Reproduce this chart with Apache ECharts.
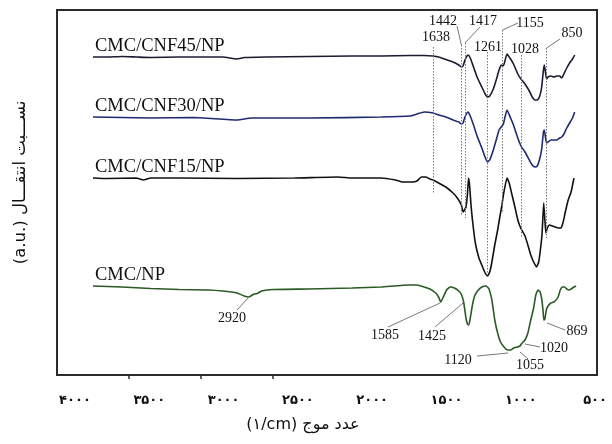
<!DOCTYPE html>
<html>
<head>
<meta charset="utf-8">
<script src="https://cdn.jsdelivr.net/npm/echarts@6/dist/echarts.min.js"></script>
<style>
  html, body { margin: 0; padding: 0; background: #fff; }
  #chart { width: 612px; height: 444px; }
</style>
</head>
<body>
<div id="chart"></div>
<script>
// FTIR spectra, wavenumber (cm-1) vs. offset transmittance (a.u.)
const cnf45 = [[4000,318],[3900,318],[3800,318.5],[3700,318],[3600,317.5],[3400,318],[3100,318],[3000,316],[2950,317.5],[2800,318],[2500,318.5],[2200,319],[2000,319],[1800,319.5],[1700,319.5],[1638,319],[1600,318],[1550,315.5],[1500,313],[1460,310],[1442,308],[1430,309],[1417,315],[1395,320],[1380,317],[1360,309],[1330,297],[1300,288],[1280,282],[1261,278],[1245,279],[1220,286],[1200,295],[1180,305],[1165,310],[1155,309],[1145,311],[1125,321],[1100,316],[1080,311],[1050,301],[1028,296],[1000,291],[970,284],[950,278],[930,275],[915,275],[900,278],[885,287],[872,305],[866,310],[858,303],[850,296],[840,298],[820,299],[800,298],[780,299],[760,299],[745,297],[730,301],[710,307],[690,312],[670,316],[655,320]];

const cnf30 = [[4000,258],[3800,257.5],[3600,257],[3300,257.5],[3000,255],[2900,257],[2500,257],[2000,258],[1800,259],[1750,261],[1700,263],[1638,262],[1600,260],[1550,258],[1500,255],[1460,253],[1442,251],[1430,252],[1417,258],[1395,263],[1380,259],[1360,251],[1330,238],[1300,227],[1280,219],[1261,213],[1245,215],[1220,225],[1200,235],[1180,245],[1160,249],[1150,251],[1125,265],[1100,257],[1080,250],[1050,237],[1028,229],[1000,223],[970,215],[950,210],[930,208],[915,209],[900,215],[885,225],[872,243],[866,245],[858,238],[850,232],[840,233],[820,235],[800,235],[780,235],[760,237],[745,238],[730,241],[710,247],[690,252],[670,257],[655,263]];

const cnf15 = [[4000,197],[3900,196.5],[3700,197],[3650,195],[3600,197],[3400,197],[3000,196.5],[2600,197],[2300,198],[2200,197],[2000,197],[1900,195],[1850,193],[1780,193],[1750,194],[1720,198],[1690,198],[1660,196],[1638,195],[1600,192],[1550,188],[1500,182],[1470,177],[1442,170],[1430,163],[1420,165],[1410,168],[1400,180],[1392,197],[1385,190],[1375,170],[1365,155],[1345,132],[1320,117],[1300,110],[1280,103],[1261,99],[1245,103],[1230,113],[1210,130],[1190,145],[1175,158],[1160,170],[1150,180],[1125,197],[1110,192],[1090,180],[1070,168],[1050,155],[1030,147],[1000,139],[980,130],[960,120],[940,113],[920,108],[905,113],[895,123],[882,140],[870,172],[862,155],[855,142],[845,147],[830,150],[810,149],[790,148],[770,147],[750,147],[735,153],[720,163],[700,175],[680,183],[660,197]];

const cmcNp = [[4000,89],[3800,88],[3600,86.5],[3400,85.5],[3200,85],[3100,84],[3000,82],[2950,79],[2920,78],[2880,81],[2860,81.5],[2830,84],[2750,85.5],[2500,86],[2200,87],[2000,88],[1800,90],[1750,90],[1700,88],[1660,86],[1620,82],[1600,78],[1585,73],[1570,77],[1545,85],[1520,88],[1490,87],[1460,84],[1440,80],[1425,72],[1410,57],[1400,51],[1390,50],[1380,57],[1365,70],[1350,79],[1330,84],[1300,88],[1270,89],[1250,86],[1230,75],[1210,55],[1190,42],[1170,33],[1140,27],[1120,25],[1100,25],[1080,27],[1055,28],[1035,29],[1020,32],[1000,35],[980,42],[960,55],[940,67],[925,80],[910,85],[895,83],[885,77],[875,65],[869,55],[862,56],[852,65],[840,69],[820,72],[800,73],[785,75],[770,78],[755,85],[740,88],[725,88],[710,86],[695,85],[680,86],[660,88],[645,89]];

const seriesNames = ['CMC/CNF45/NP', 'CMC/CNF30/NP', 'CMC/CNF15/NP', 'CMC/NP'];
const seriesColors = ['#1b1b30', '#1f2a70', '#111111', '#2c5a26'];

// Tick labels in Persian digits
const xTickValues = [4000, 3500, 3000, 2500, 2000, 1500, 1000, 500];
const xTickLabels = ['۴۰۰۰', '۳۵۰۰', '۳۰۰۰', '۲۵۰۰', '۲۰۰۰', '۱۵۰۰', '۱۰۰۰', '۵۰۰'];

// Characteristic bands of the composite films (dotted guides)
const compositeBands = [1638, 1442, 1417, 1261, 1155, 1028, 850];
// Characteristic bands of CMC/NP
const cmcBands = [2920, 1585, 1425, 1120, 1055, 1020, 869];

// Layout of the band annotations
const guideSpan = { 1638: [328, 182], 1442: [330, 160], 1417: [332, 157], 1261: [323, 98], 1155: [345, 163], 1028: [320, 137], 850: [327, 137] };
const compositeTags = {
  1638: { at: [1618, 338] },
  1442: { at: [1569, 354], leader: [[1472, 349], [1442, 330]] },
  1417: { at: [1292, 354], leader: [[1312, 348], [1417, 332]] },
  1261: { at: [1257, 328] },
  1155: { at: [965, 352], leader: [[1049, 352], [1155, 345]] },
  1028: { at: [1000, 326] },
  850:  { at: [674, 342], leader: [[757, 336], [850, 327]] }
};
const cmcTags = {
  2920: { at: [3035, 57], leader: [[3000, 65], [2923, 77]] },
  1585: { at: [1972, 40], leader: [[1951, 48], [1590, 72]] },
  1425: { at: [1646, 39], leader: [[1625, 48], [1430, 72]] },
  1120: { at: [1465, 15], leader: [[1333, 19], [1118, 22]] },
  1055: { at: [965, 10], leader: [[1035, 23], [979, 16]] },
  1020: { at: [799, 27], leader: [[1000, 31], [896, 28]] },
  869:  { at: [639, 44], leader: [[847, 52], [722, 45]] }
};

const serifFont = '"Liberation Serif", "Times New roman", serif';

function tagPoints(bands, tags) {
  return bands.map(b => ({ name: String(b), coord: tags[b].at }));
}
function leaderLines(bands, tags) {
  return bands.filter(b => tags[b].leader).map(b => [
    { coord: tags[b].leader[0] }, { coord: tags[b].leader[1] }
  ]);
}

const spectra = [cnf45, cnf30, cnf15, cmcNp];

const series = spectra.map((data, i) => ({
  name: seriesNames[i],
  type: 'line',
  data: data,
  xAxisIndex: 0,
  symbol: 'none',
  smooth: 0.15,
  lineStyle: { color: seriesColors[i], width: 1.6 },
  markPoint: {
    symbol: 'circle',
    symbolSize: 0,
    silent: true,
    data: [{ name: seriesNames[i], coord: data[0] }],
    label: {
      show: true,
      formatter: '{b}',
      position: [2, -20],
      color: '#111',
      fontFamily: serifFont,
      fontSize: 18.5
    }
  }
}));

// Dotted guides and peak labels for the composite films
series[2].markLine = {
  silent: true,
  symbol: ['none', 'none'],
  label: { show: false },
  lineStyle: { color: '#777', type: [1.5, 1.5], width: 1 },
  data: compositeBands.map(b => [{ coord: [b, guideSpan[b][0]] }, { coord: [b, guideSpan[b][1]] }])
};
series.push({
  name: 'composite-tags',
  type: 'line',
  data: [],
  markLine: {
    silent: true,
    symbol: ['none', 'none'],
    label: { show: false },
    lineStyle: { color: '#555', type: 'solid', width: 0.8 },
    data: leaderLines(compositeBands, compositeTags).concat(leaderLines(cmcBands, cmcTags))
  },
  markPoint: {
    symbol: 'circle',
    symbolSize: 0,
    silent: true,
    label: {
      show: true,
      formatter: '{b}',
      position: 'inside',
      color: '#111',
      fontFamily: serifFont,
      fontSize: 14
    },
    data: tagPoints(compositeBands, compositeTags).concat(tagPoints(cmcBands, cmcTags))
  }
});

const chart = echarts.init(document.getElementById('chart'), null, { renderer: 'canvas' });
chart.setOption({
  animation: false,
  backgroundColor: '#fff',
  grid: {
    left: 57, right: 15, top: 10, bottom: 69,
    show: true, borderColor: '#2b2b2b', borderWidth: 2, backgroundColor: 'transparent'
  },
  xAxis: [
    {
      type: 'value', min: 500, max: 4250, inverse: true,
      axisLine: { show: false },
      axisTick: { show: true, inside: false, length: 4, customValues: [3750, 3250, 2750], lineStyle: { color: '#2b2b2b', width: 1.5 } },
      axisLabel: { show: false },
      splitLine: { show: false }
    },
    {
      type: 'value', min: 487, max: 4121, inverse: true, position: 'bottom',
      axisLine: { show: false },
      axisTick: { show: false },
      splitLine: { show: false },
      axisLabel: {
        show: true,
        customValues: xTickValues,
        formatter: v => xTickLabels[xTickValues.indexOf(v)],
        margin: 19,
        color: '#111',
        fontFamily: '"DejaVu Sans", sans-serif',
        fontWeight: 'bold',
        fontSize: 13
      },
      name: '(۱/cm) عدد موج',
      nameLocation: 'middle',
      nameGap: 42,
      nameTextStyle: {
        color: '#111',
        fontFamily: '"DejaVu Sans", "Liberation Sans", sans-serif',
        fontSize: 16,
        padding: [0, 48, 0, 0]
      }
    }
  ],
  yAxis: {
    type: 'value', min: 0, max: 365,
    axisLine: { show: false },
    axisTick: { show: false },
    axisLabel: { show: false },
    splitLine: { show: false },
    name: '(a.u.) نســـبت انتقـــال',
    nameLocation: 'middle',
    nameGap: 28,
    nameTextStyle: {
      color: '#111',
      fontFamily: '"DejaVu Sans", "Liberation Sans", sans-serif',
      fontSize: 16.5,
      padding: [0, 0, 0, 20]
    }
  },
  series: series
});
</script>
</body>
</html>
